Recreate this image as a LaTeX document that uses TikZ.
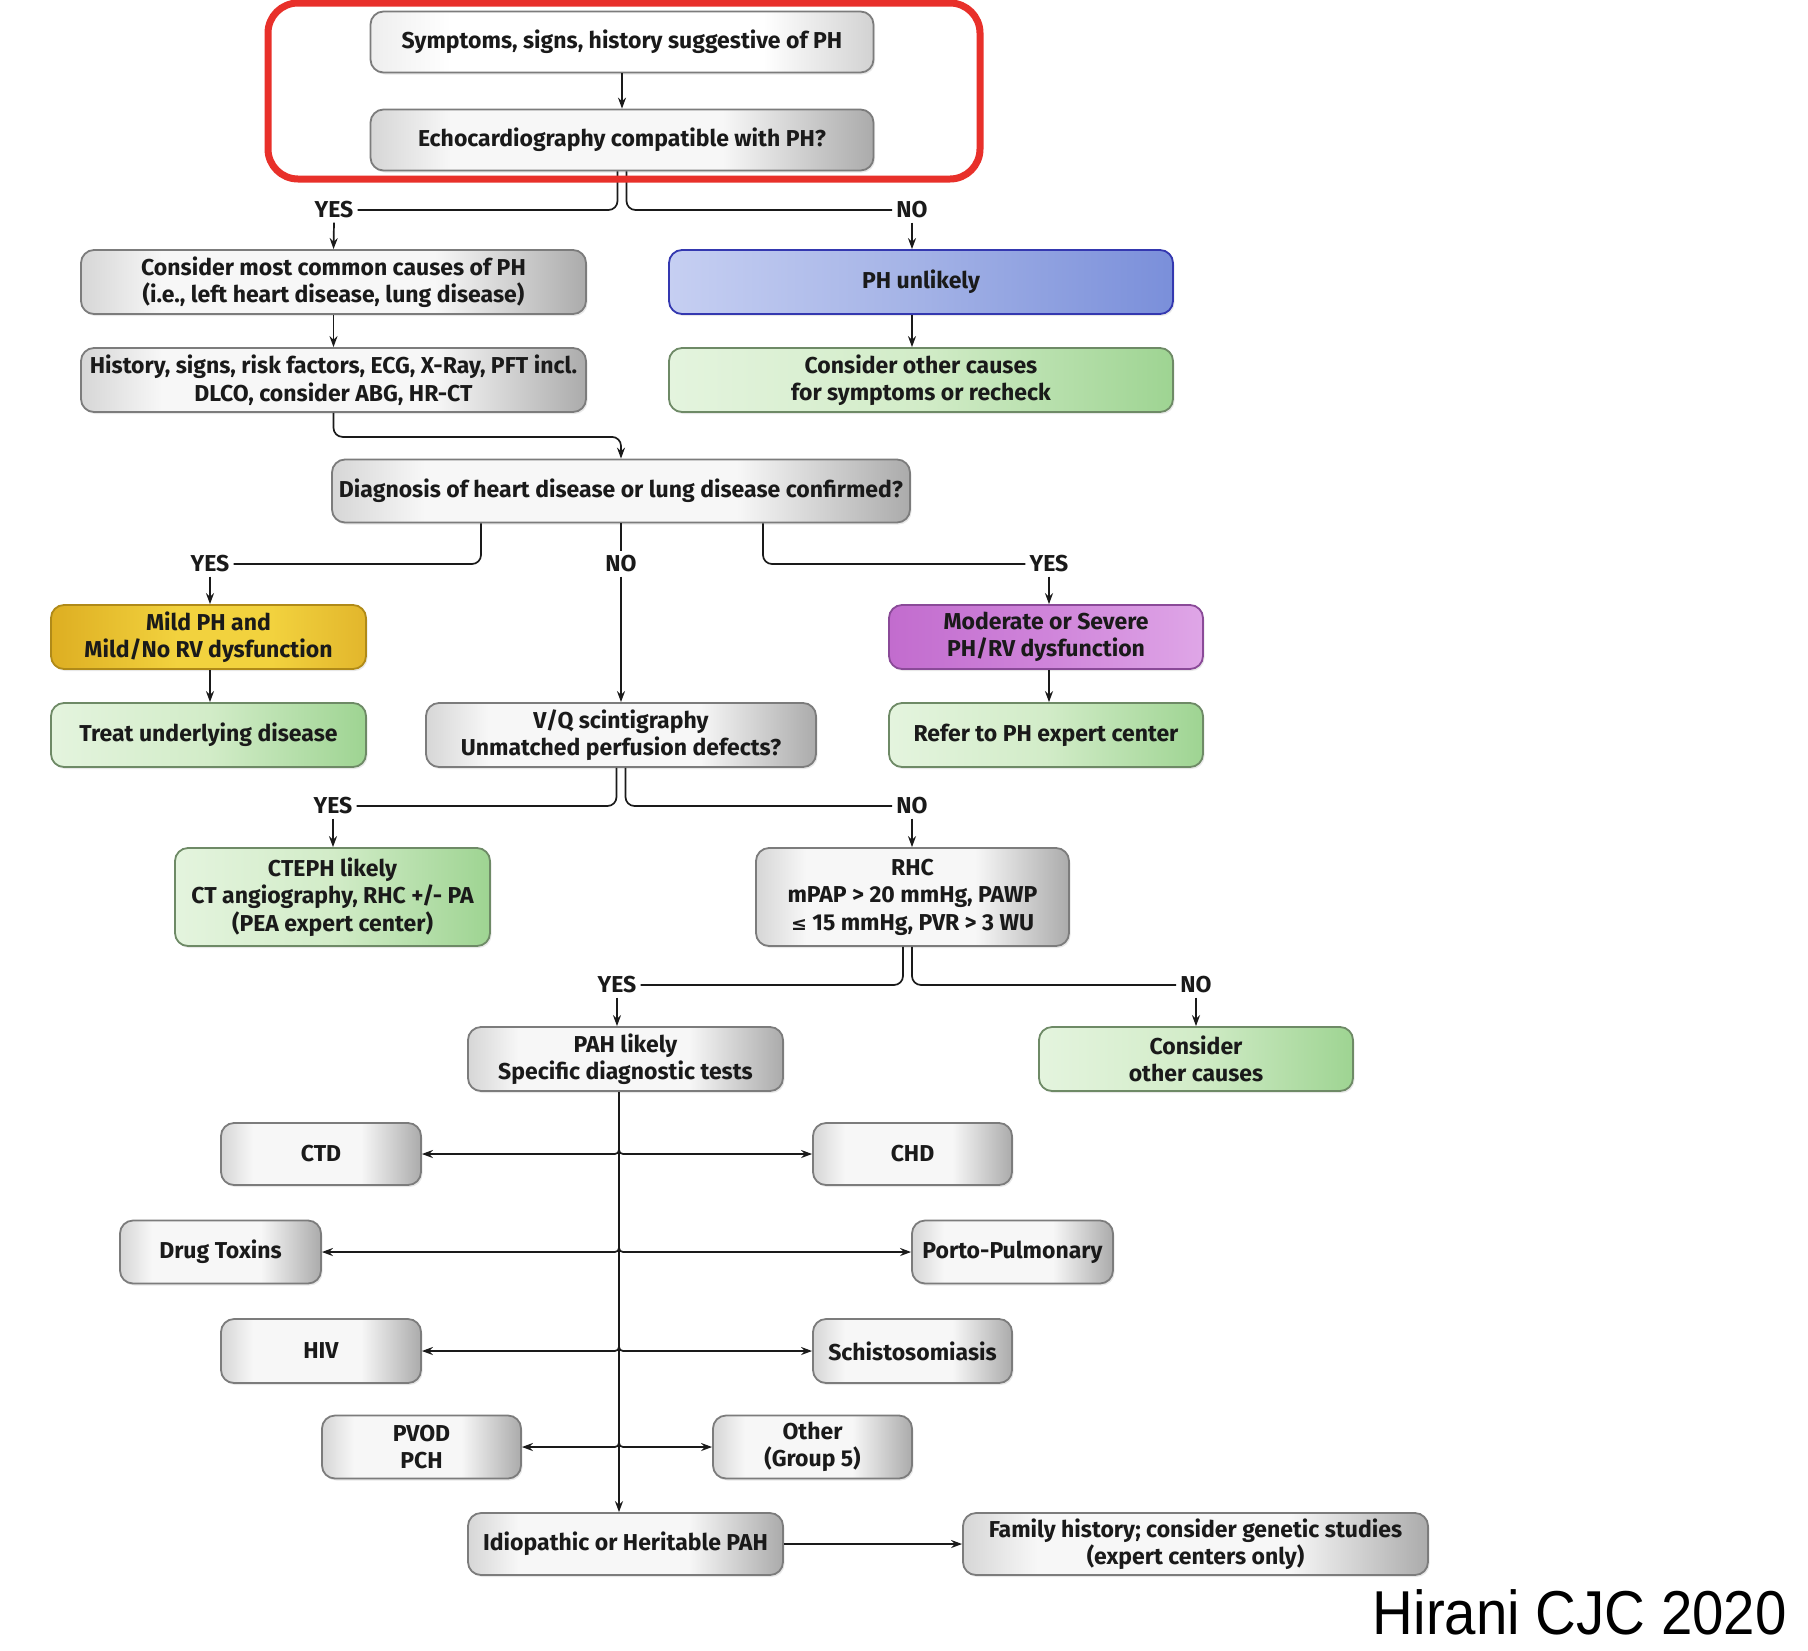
\documentclass[tikz,border=0pt]{standalone}
\usepackage{fontspec}
\setmainfont{Fira Sans}
\newfontfamily\hirfont{Liberation Sans}
\newfontfamily\symfont{DejaVu Sans}
\usetikzlibrary{arrows.meta,calc,shadows}

% box colours
\definecolor{gA}{HTML}{D6D6D6}
\definecolor{gB}{HTML}{F7F7F7}
\definecolor{gC}{HTML}{ABABAB}
\definecolor{wA}{HTML}{EEEEEE}
\definecolor{wB}{HTML}{FFFFFF}
\definecolor{wC}{HTML}{D2D2D2}
\definecolor{grA}{HTML}{E4F4DE}
\definecolor{grB}{HTML}{D2ECC8}
\definecolor{grC}{HTML}{9ED492}
\definecolor{blA}{HTML}{C6CFF2}
\definecolor{blB}{HTML}{A3B2E6}
\definecolor{blC}{HTML}{7A8FDA}
\definecolor{yeA}{HTML}{DDAE22}
\definecolor{yeB}{HTML}{F2D23E}
\definecolor{yeC}{HTML}{E2B62C}
\definecolor{puA}{HTML}{C26CCE}
\definecolor{puB}{HTML}{CF84DA}
\definecolor{puC}{HTML}{DFA6E7}
\definecolor{lineGray}{HTML}{7C7C7C}
\definecolor{lineGreen}{HTML}{6E8A66}
\definecolor{lineBlue}{HTML}{3438B0}
\definecolor{lineGold}{HTML}{B08A18}
\definecolor{linePurple}{HTML}{8A4A98}
\definecolor{frameRed}{HTML}{E8302A}
\definecolor{ink}{HTML}{1A1A1A}

\pgfdeclarehorizontalshading{grayshade}{100bp}{color(0bp)=(gA); color(25bp)=(gA); color(33bp)=(gB); color(60bp)=(gB); color(75bp)=(gC); color(100bp)=(gC)}
\pgfdeclarehorizontalshading{whiteshade}{100bp}{color(0bp)=(wA); color(25bp)=(wA); color(33bp)=(wB); color(64bp)=(wB); color(75bp)=(wC); color(100bp)=(wC)}
\pgfdeclarehorizontalshading{greenshade}{100bp}{color(0bp)=(grA); color(25bp)=(grA); color(50bp)=(grB); color(75bp)=(grC); color(100bp)=(grC)}
\pgfdeclarehorizontalshading{blueshade}{100bp}{color(0bp)=(blA); color(25bp)=(blA); color(50bp)=(blB); color(75bp)=(blC); color(100bp)=(blC)}
\pgfdeclarehorizontalshading{yellowshade}{100bp}{color(0bp)=(yeA); color(25bp)=(yeA); color(45bp)=(yeB); color(60bp)=(yeB); color(75bp)=(yeC); color(100bp)=(yeC)}
\pgfdeclarehorizontalshading{purpleshade}{100bp}{color(0bp)=(puA); color(25bp)=(puA); color(50bp)=(puB); color(75bp)=(puC); color(100bp)=(puC)}

\tikzset{
  box/.style={draw=lineGray, line width=1.8pt, rounded corners=13pt, shade,
    align=center, text=ink, inner sep=2pt,
    font=\bfseries\fontsize{23}{27.5}\selectfont,
    drop shadow={opacity=0.18, shadow xshift=1.5pt, shadow yshift=-2pt}},
  graybox/.style={box, shading=grayshade},
  whitebox/.style={box, shading=whiteshade},
  greenbox/.style={box, shading=greenshade, draw=lineGreen},
  bluebox/.style={box, shading=blueshade, draw=lineBlue},
  yellowbox/.style={box, shading=yellowshade, draw=lineGold},
  purplebox/.style={box, shading=purpleshade, draw=linePurple},
  answer/.style={font=\bfseries\fontsize{23}{26}\selectfont, text=ink, inner sep=4pt},
  link/.style={draw=ink, line width=1.7pt},
  arrow/.style={link, -{Stealth[length=11pt, width=8pt]}},
  fork/.style={link, rounded corners=9pt},
  twig/.style={arrow, rounded corners=4pt},
  redframe/.style={draw=frameRed, line width=7pt, rounded corners=30pt}
}

\begin{document}
\begin{tikzpicture}[x=1pt, y=-1pt]
\useasboundingbox[fill=white] (0,0) rectangle (1808,1650);

% --- boxes -----------------------------------------------------------
\node[whitebox, minimum width=503pt, minimum height=61pt] (sym)  at (622,42)  {Symptoms, signs, history suggestive of PH};
\node[graybox,  minimum width=503pt, minimum height=61pt] (echo) at (622,140) {Echocardiography compatible with PH?};

\node[graybox,  minimum width=505pt, minimum height=64pt] (common)  at (333.5,282) {Consider most common causes of PH\\(i.e., left heart disease, lung disease)};
\node[bluebox,  minimum width=504pt, minimum height=64pt] (unlikely) at (921,282)  {PH unlikely};
\node[graybox,  minimum width=505pt, minimum height=64pt] (hist)    at (333.5,380) {History, signs, risk factors, ECG, X-Ray, PFT incl.\\DLCO, consider ABG, HR-CT};
\node[greenbox, minimum width=504pt, minimum height=64pt] (recheck) at (921,380)  {Consider other causes\\for symptoms or recheck};

\node[graybox,  minimum width=578pt, minimum height=63pt] (diag) at (621,491) {Diagnosis of heart disease or lung disease confirmed?};

\node[yellowbox, minimum width=315pt, minimum height=64pt] (mild)  at (208.5,637) {Mild PH and\\Mild/No RV dysfunction};
\node[greenbox,  minimum width=315pt, minimum height=64pt] (treat) at (208.5,735) {Treat underlying disease};
\node[purplebox, minimum width=314pt, minimum height=64pt] (severe) at (1046,637) {Moderate or Severe\\PH/RV dysfunction};
\node[greenbox,  minimum width=314pt, minimum height=64pt] (refer)  at (1046,735) {Refer to PH expert center};
\node[graybox,   minimum width=390pt, minimum height=64pt] (vq)     at (621,735)  {V/Q scintigraphy\\Unmatched perfusion defects?};

\node[greenbox, minimum width=315pt, minimum height=98pt] (cteph) at (332.5,897) {CTEPH likely\\CT angiography, RHC +/- PA\\(PEA expert center)};
\node[graybox,  minimum width=313pt, minimum height=98pt] (rhc)   at (912.5,897) {RHC\\mPAP > 20 mmHg, PAWP\\{\symfont\fontsize{19}{20}\selectfont ≤} 15 mmHg, PVR > 3 WU};

\node[graybox,  minimum width=315pt, minimum height=64pt] (pah)    at (625.5,1059) {PAH likely\\Specific diagnostic tests};
\node[greenbox, minimum width=314pt, minimum height=64pt] (others) at (1196,1059)  {Consider\\other causes};

\node[graybox, minimum width=200pt, minimum height=62pt] (ctd)     at (321,1154)    {CTD};
\node[graybox, minimum width=199pt, minimum height=62pt] (chd)     at (912.5,1154)  {CHD};
\node[graybox, minimum width=201pt, minimum height=63pt] (drug)    at (220.5,1252)  {Drug Toxins};
\node[graybox, minimum width=201pt, minimum height=63pt] (porto)   at (1012.5,1252) {Porto-Pulmonary};
\node[graybox, minimum width=200pt, minimum height=64pt] (hiv)     at (321,1351)    {HIV};
\node[graybox, minimum width=199pt, minimum height=64pt] (schisto) at (912.5,1351)  {Schistosomiasis};
\node[graybox, minimum width=199pt, minimum height=63pt] (pvod)    at (421.5,1447)  {PVOD\\PCH};
\node[graybox, minimum width=199pt, minimum height=63pt] (group)   at (812.5,1447)  {Other\\(Group 5)};

\node[graybox, minimum width=315pt, minimum height=62pt] (idio)   at (625.5,1544) {Idiopathic or Heritable PAH};
\node[graybox, minimum width=465pt, minimum height=62pt] (family) at (1195.5,1544) {Family history; consider genetic studies\\(expert centers only)};

% --- answer labels -----------------------------------------------------
\node[answer] (yes1) at (334,210)  {YES};
\node[answer] (no1)  at (912,210)  {NO};
\node[answer] (yes2) at (210,564)  {YES};
\node[answer] (no2)  at (621,564)  {NO};
\node[answer] (yes3) at (1049,564) {YES};
\node[answer] (yes4) at (333,806)  {YES};
\node[answer] (no4)  at (912,806)  {NO};
\node[answer] (yes5) at (617,985)  {YES};
\node[answer] (no5)  at (1196,985) {NO};

% --- connectors ----------------------------------------------------------
\draw[arrow] (sym.south) -- (echo.north);

\draw[fork] ([xshift=-4.5pt]echo.south) |- (yes1.east);
\draw[fork] ([xshift=4.5pt]echo.south)  |- (no1.west);
\draw[arrow] (yes1.south) -- (common.north);
\draw[arrow] (no1.south)  -- (unlikely.north -| no1.south);
\draw[arrow] (common.south) -- (hist.north);
\draw[arrow] (unlikely.south -| no1.south) -- (recheck.north -| no1.south);

\draw[arrow, rounded corners=9pt] (hist.south) -- ++(0,24) -| (diag.north);

\draw[fork] ([xshift=-140pt]diag.south) |- (yes2.east);
\draw[fork] ([xshift=142pt]diag.south)  |- (yes3.west);
\draw[link]  (diag.south) -- (no2.north);
\draw[arrow] (no2.south) -- (vq.north);
\draw[arrow] (yes2.south) -- (mild.north -| yes2.south);
\draw[arrow] (mild.south -| yes2.south) -- (treat.north -| yes2.south);
\draw[arrow] (yes3.south) -- (severe.north -| yes3.south);
\draw[arrow] (severe.south -| yes3.south) -- (refer.north -| yes3.south);

\draw[fork] ([xshift=-4.5pt]vq.south) |- (yes4.east);
\draw[fork] ([xshift=4.5pt]vq.south)  |- (no4.west);
\draw[arrow] (yes4.south) -- (cteph.north -| yes4.south);
\draw[arrow] (no4.south)  -- (rhc.north -| no4.south);

\draw[fork] ([xshift=-9.5pt]rhc.south) |- (yes5.east);
\draw[fork] ([xshift=-0.5pt]rhc.south) |- (no5.west);
\draw[arrow] (yes5.south) -- (pah.north -| yes5.south);
\draw[arrow] (no5.south)  -- (others.north);

% spine of the PAH work-up
\coordinate (sp) at (619,0);
\draw[arrow] (pah.south -| sp) -- (idio.north -| sp);
\foreach \l/\r in {ctd/chd, drug/porto, hiv/schisto, pvod/group}{
  \draw[twig] ($(\l.east -| sp)+(0,-9)$) -- (\l.east -| sp) -- (\l.east);
  \draw[twig] ($(\r.west -| sp)+(0,-9)$) -- (\r.west -| sp) -- (\r.west);
}
\draw[arrow] (idio.east) -- (family.west);

% --- highlight frame and citation ------------------------------------------
\draw[redframe] (268,3) rectangle (980,179);
\node[anchor=base east, inner sep=0pt, font=\hirfont\fontsize{62}{70}\selectfont] (cite) at (1787,1634) {\scalebox{0.91}[1]{Hirani CJC 2020}};
\end{tikzpicture}
\end{document}
